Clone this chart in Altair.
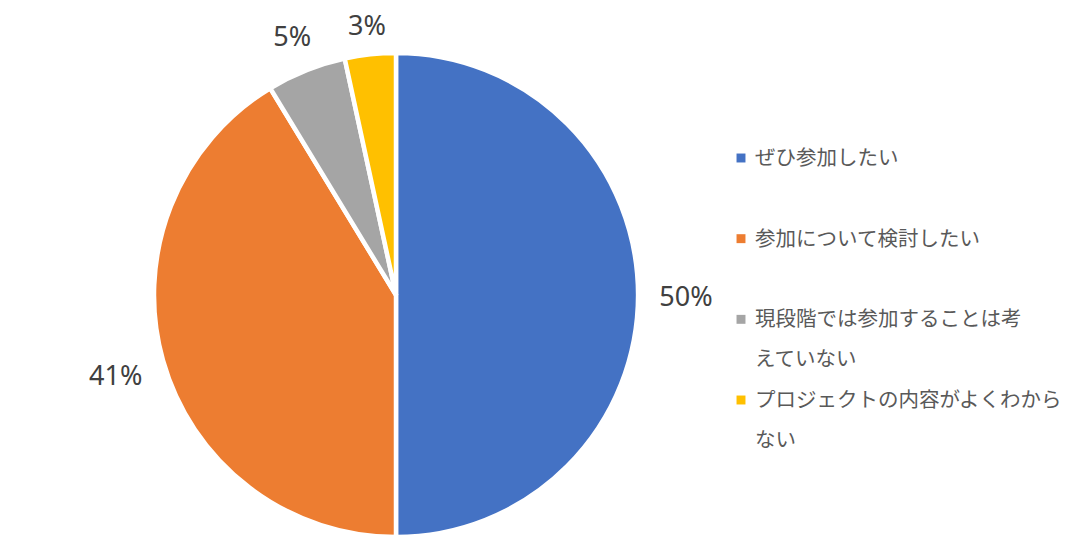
import altair as alt
import pandas as pd

categories = ["ぜひ参加したい", "参加について検討したい", "現段階では参加することは考えていない", "プロジェクトの内容がよくわからない"]
legend_text = ["ぜひ参加したい", "参加について検討したい", "現段階では参加することは考|えていない", "プロジェクトの内容がよくわから|ない"]
values = [50.0, 41.3, 5.3, 3.4]
colors = ["#4472C4", "#ED7D31", "#A5A5A5", "#FFC000"]

df = pd.DataFrame({"cat": categories, "val": values, "idx": list(range(len(categories)))})
leg = pd.DataFrame({"cat": categories, "txt": legend_text, "row": list(range(len(categories)))})

color_scale = alt.Scale(domain=categories, range=colors)

pie = alt.Chart(df).mark_arc(outerRadius=242, stroke="white", strokeWidth=4.5).encode(
    theta=alt.Theta("val:Q", stack=True),
    order=alt.Order("idx:Q"),
    color=alt.Color("cat:N", scale=color_scale, legend=None),
    x=alt.value(388),
    y=alt.value(287),
)

# label sits just outside the arc, its box kept at a fixed gap (like Excel "outside end")
pct = alt.Chart(df).mark_text(font="Noto Sans", fontSize=27, color="#404040", dy=3).encode(
    text=alt.Text("lab:N"),
    theta=alt.Theta("mid:Q", scale=None, stack=None),
    radius=alt.Radius("lr:Q", scale=None),
    x=alt.value(388),
    y=alt.value(287),
).transform_joinaggregate(
    total="sum(val)"
).transform_window(
    cum="sum(val)", sort=[alt.SortField("idx")], frame=[None, 0]
).transform_calculate(
    lab="format(datum.val, '.0f') + '%'",
    mid="2*PI*(datum.cum - datum.val/2)/datum.total",
).transform_calculate(
    lr="262 + 28*abs(sin(datum.mid)) + 8*abs(cos(datum.mid))"
)

yscale = alt.Scale(domain=[0, 3], range=[150, 392])

leg_sym = alt.Chart(leg).mark_square(size=80, opacity=1).encode(
    x=alt.value(733),
    y=alt.Y("row:Q", scale=yscale, axis=None),
    color=alt.Color("cat:N", scale=color_scale, legend=None),
)

leg_txt = alt.Chart(leg).mark_text(
    align="left", baseline="top", dy=-9, lineBreak="|", lineHeight=40,
    font="Noto Sans CJK JP", fontSize=20.5, color="#595959",
).encode(
    x=alt.value(747),
    y=alt.Y("row:Q", scale=yscale, axis=None),
    text="txt:N",
)

chart = alt.layer(pie, pct, leg_sym, leg_txt).properties(
    width=1054, height=534, padding=0,
    autosize=alt.AutoSizeParams(type="none"),
).configure_view(stroke=None)

chart.save("out.html", embed_options={"renderer": "svg", "actions": False})
